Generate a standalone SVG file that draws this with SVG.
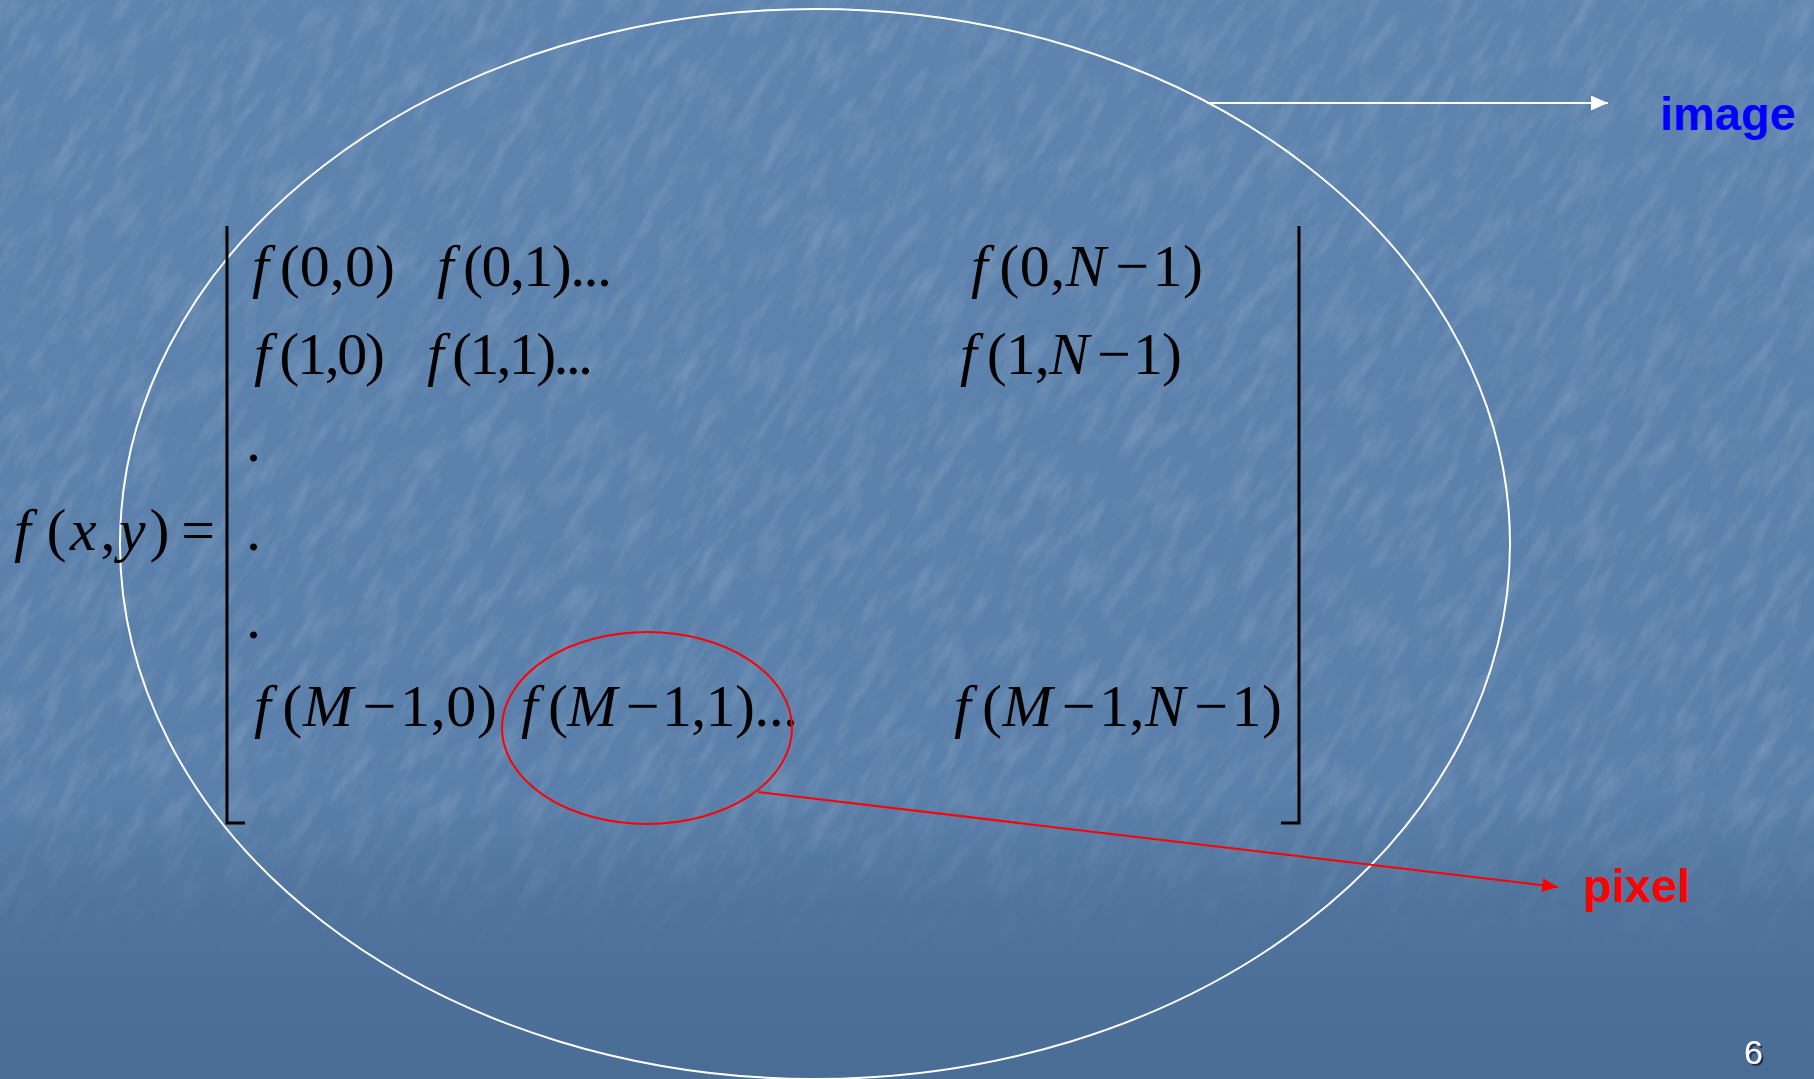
<svg xmlns="http://www.w3.org/2000/svg" width="1814" height="1079" viewBox="0 0 1814 1079">
<defs>
  <linearGradient id="bg" x1="0" y1="0" x2="0" y2="1">
    <stop offset="0" stop-color="#5d83ae"/>
    <stop offset="0.74" stop-color="#5a7faa"/>
    <stop offset="0.84" stop-color="#4f739c"/>
    <stop offset="1" stop-color="#4a6d96"/>
  </linearGradient>
  <linearGradient id="fade" gradientUnits="userSpaceOnUse" x1="0" y1="800" x2="0" y2="960">
    <stop offset="0" stop-color="#fff"/>
    <stop offset="1" stop-color="#000"/>
  </linearGradient>
  <mask id="texmask" maskUnits="userSpaceOnUse" x="0" y="0" width="1814" height="1079">
    <rect x="0" y="0" width="1814" height="1079" fill="url(#fade)"/>
  </mask>
  <filter id="tex" x="0" y="0" width="1" height="1">
    <feTurbulence type="fractalNoise" baseFrequency="0.02 0.07" numOctaves="4" seed="11"/>
    <feColorMatrix type="matrix" values="0 0 0 0 1  0 0 0 0 1  0 0 0 0 1  0 0 0 1.6 -0.68"/>
  </filter>
  <filter id="shadow" x="-50%" y="-50%" width="200%" height="200%">
    <feDropShadow dx="2" dy="2" stdDeviation="0.6" flood-color="#1c2b44" flood-opacity="0.9"/>
  </filter>
  <marker id="arrW" markerUnits="userSpaceOnUse" viewBox="0 0 17 15" refX="17" refY="7.5" markerWidth="17" markerHeight="15" orient="auto">
    <path d="M0,0 L17,7.5 L0,15 z" fill="#ffffff"/>
  </marker>
  <marker id="arrR" markerUnits="userSpaceOnUse" viewBox="0 0 16 14" refX="16" refY="7" markerWidth="16" markerHeight="14" orient="auto">
    <path d="M0,0 L16,7 L0,14 z" fill="#ff0000"/>
  </marker>
  <style>
    .m { font-family: "Liberation Serif", "Times New Roman", serif; font-size: 60px; fill: #000; }
    .i { font-style: italic; }
    .lbl { font-family: "Liberation Sans", Arial, sans-serif; font-weight: bold; font-size: 47px; }
    .br { fill: none; stroke: #000; stroke-width: 3; }
  </style>
</defs>

<rect x="0" y="0" width="1814" height="1079" fill="url(#bg)"/>
<g mask="url(#texmask)" opacity="0.18">
  <rect x="-600" y="-900" width="3000" height="3000" filter="url(#tex)" transform="rotate(-58 907 540)"/>
</g>

<g id="image-region">
  <ellipse cx="815" cy="544" rx="695" ry="535" fill="none" stroke="#ffffff" stroke-width="2"/>
</g>

<g id="matrix">
  <text id="lhs" class="m" x="14" y="550" textLength="201" lengthAdjust="spacing"><tspan class="i">f</tspan><tspan dx="12">(</tspan><tspan class="i">x</tspan>,<tspan class="i">y</tspan>)<tspan dx="8">=</tspan></text>
  <path class="br" d="M227,226 V823 H245"/>
  <path class="br" d="M1299,226 V823 H1281"/>

  <text class="m" x="252" y="286" textLength="143" lengthAdjust="spacing"><tspan class="i">f</tspan><tspan dx="11">(0,0)</tspan></text>
  <text class="m" x="437" y="286" textLength="175" lengthAdjust="spacing"><tspan class="i">f</tspan><tspan dx="11">(0,1)...</tspan></text>
  <text class="m" x="971" y="286" textLength="232" lengthAdjust="spacing"><tspan class="i">f</tspan><tspan dx="11">(0,</tspan><tspan class="i">N</tspan><tspan dx="9">−</tspan><tspan dx="3">1)</tspan></text>

  <text class="m" x="254" y="374" textLength="131" lengthAdjust="spacing"><tspan class="i">f</tspan><tspan dx="11">(1,0)</tspan></text>
  <text class="m" x="427" y="374" textLength="166" lengthAdjust="spacing"><tspan class="i">f</tspan><tspan dx="11">(1,1)...</tspan></text>
  <text class="m" x="960" y="374" textLength="222" lengthAdjust="spacing"><tspan class="i">f</tspan><tspan dx="11">(1,</tspan><tspan class="i">N</tspan><tspan dx="9">−</tspan><tspan dx="3">1)</tspan></text>

  <text class="m" x="246" y="461">.</text>
  <text class="m" x="246" y="550">.</text>
  <text class="m" x="246" y="638">.</text>

  <text class="m" x="254" y="726" textLength="243" lengthAdjust="spacing"><tspan class="i">f</tspan><tspan dx="11">(</tspan><tspan class="i">M</tspan><tspan dx="9">−</tspan><tspan dx="3">1,0)</tspan></text>
  <text class="m" x="521" y="726" textLength="277" lengthAdjust="spacing"><tspan class="i">f</tspan><tspan dx="11">(</tspan><tspan class="i">M</tspan><tspan dx="9">−</tspan><tspan dx="3">1,1)...</tspan></text>
  <text class="m" x="954" y="726" textLength="328" lengthAdjust="spacing"><tspan class="i">f</tspan><tspan dx="11">(</tspan><tspan class="i">M</tspan><tspan dx="9">−</tspan><tspan dx="3">1,</tspan><tspan class="i">N</tspan><tspan dx="9">−</tspan><tspan dx="3">1)</tspan></text>
</g>

<g id="pixel-region">
  <ellipse cx="647" cy="728" rx="145" ry="96" fill="none" stroke="#ff0000" stroke-width="2"/>
</g>

<g id="connectors">
  <line x1="1207" y1="103" x2="1608" y2="103" stroke="#ffffff" stroke-width="2" marker-end="url(#arrW)"/>
  <line x1="758" y1="792" x2="1558" y2="887" stroke="#ff0000" stroke-width="2" marker-end="url(#arrR)"/>
</g>

<g id="label-image">
  <text class="lbl" x="1660" y="130" fill="#0000ff">image</text>
</g>
<g id="label-pixel">
  <text class="lbl" x="1583" y="902" fill="#ff0000">pixel</text>
</g>

<g id="page-number">
  <text x="1744" y="1064" font-family="Liberation Sans, Arial, sans-serif" font-size="34" fill="#ffffff" filter="url(#shadow)">6</text>
</g>
</svg>
